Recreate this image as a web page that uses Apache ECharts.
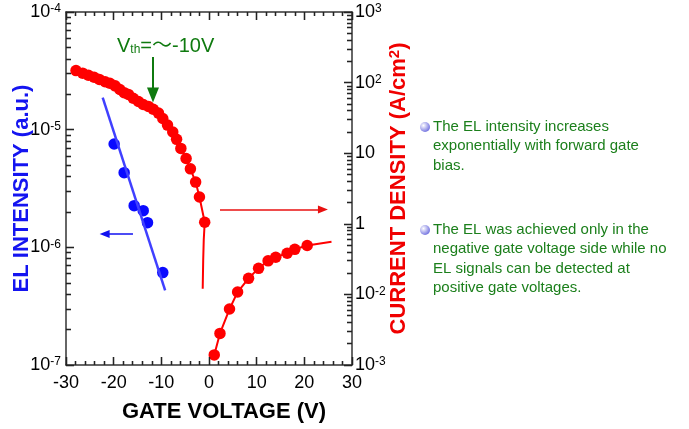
<!DOCTYPE html>
<html><head><meta charset="utf-8">
<script src="https://cdn.jsdelivr.net/npm/echarts@6/dist/echarts.min.js"></script>
<style>html,body{margin:0;padding:0;background:#fff}#wrap{position:relative;width:689px;height:429px}#c,#t{position:absolute;left:0;top:0;width:689px;height:429px}#t{pointer-events:none}</style>
</head><body><div id="wrap"><div id="c"></div><div id="t"></div></div>
<script>
// ---- data ----
const xRange = [-30, 30];
const xTickStep = 10;

// current density (right axis), negative gate side: dots
const redNegV = [-27.9,-26.5,-25.3,-24.1,-23.0,-21.8,-20.8,-19.7,-18.7,-17.8,-16.9,-15.9,-14.8,-13.8,-12.7,-11.7,-10.6,-9.7,-8.7,-7.6,-6.8,-5.9,-4.8,-3.9,-2.8,-2.0,-0.9];
const redNegJ = [148,136,127,119,111,103,98,90,80,72,68,60,54,49,46,42,37,31,25,20,15.7,11.7,8.4,6.0,3.9,2.4,1.05];
// fitted tail of the negative-side curve
const redTailV = [-1.1,-1.22,-1.32];
const redTailJ = [0.6,0.3,0.12];
// current density, positive gate side
const redPosV = [1.1,2.3,4.3,6.0,8.3,10.4,12.4,14.0,16.4,18.0,20.6];
const redPosJ = [0.0139,0.028,0.062,0.108,0.169,0.234,0.299,0.336,0.382,0.435,0.493];
const redPosExtV = [25.7];
const redPosExtJ = [0.557];

// EL intensity (left axis)
const blueV = [-19.9,-17.8,-15.7,-13.8,-12.9,-9.7];
const blueEL = [7.55e-6,4.31e-6,2.26e-6,2.05e-6,1.62e-6,6.1e-7];
const blueFitV = [-22.3,-9.2];
const blueFitEL = [1.87e-5,4.3e-7];

// axis ticks / labels
const leftTickValues = [1e-7,1e-6,1e-5,1e-4];
const leftTickLabels = ['10^-7','10^-6','10^-5','10^-4'];
const rightTickValues = [0.01,0.1,1,10,100,1000];
const rightTickLabels = ['10^-3','10^-2','1','10','10^2','10^3'];

// annotation arrows: [x1, y1, x2, y2] in data units
const vthArrow = [-11.75, 4.15e-5, -11.75, 1.97e-5];
const elArrow = [-15.95, 1.3e-6, -21.9, 1.3e-6];
const jArrow = [2.3, 1.6, 23.9, 1.6];

// texts
const xTitle = 'GATE VOLTAGE (V)';
const leftTitle = 'EL INTENSITY (a.u.)';
const rightTitleMain = 'CURRENT DENSITY (A/cm';
const rightTitleSup = '2';
const rightTitleEnd = ')';
const vthParts = ['V', 'th', '=〜-10V'];
const bullet1 = ['The EL intensity increases', 'exponentially with forward gate', 'bias.'];
const bullet2 = ['The EL was achieved only in the', 'negative gate voltage side while no', 'EL signals can be detected at', 'positive gate voltages.'];

// ---- chart ----
const FONT = '"Liberation Sans", Arial, Helvetica, sans-serif';
const zip = (a, b) => a.map((v, i) => [v, b[i]]);
function supRich(label) {
  const p = label.split('^');
  return p.length > 1 ? '{b|' + p[0] + '}{s|' + p[1] + '}' : '{b|' + label + '}';
}
function minorLog(e0, e1) {
  const out = [];
  for (let e = e0; e < e1; e++) for (let k = 2; k <= 9; k++) out.push(+(k * Math.pow(10, e)).toPrecision(6));
  return out;
}
const leftMinor = minorLog(-7, -4);
const rightMinor = minorLog(-2, 3);
const labelRich = () => ({
  b: {fontSize: 18, lineHeight: 18, fontFamily: FONT, color: '#000'},
  s: {fontSize: 12, lineHeight: 12, fontFamily: FONT, color: '#000', verticalAlign: 'top'}
});
const axisLineStyle = () => ({color: '#333', width: 1.5});
const tickStyle = () => ({color: '#222', width: 1.3});
function findIdx(vals, v) {
  return vals.findIndex(t => Math.abs(Math.log10(t) - Math.log10(v)) < 1e-6);
}
const TITLE_SIZE = 22;
const GRID = {left: 66, right: 337, top: 12, bottom: 64};

const chart = echarts.init(document.getElementById('c'));
const option = {
  animation: false,
  backgroundColor: '#fff',
  grid: GRID,
  xAxis: [
    {type: 'value', position: 'bottom', min: xRange[0], max: xRange[1], interval: xTickStep,
     axisLine: {show: true, onZero: false, lineStyle: axisLineStyle()},
     axisTick: {show: true, inside: true, length: 8, lineStyle: tickStyle()},
     minorTick: {show: true, splitNumber: 5, length: 4, lineStyle: tickStyle()},
     splitLine: {show: false},
     axisLabel: {fontSize: 18, fontFamily: FONT, color: '#000', margin: 9},
     name: xTitle, nameLocation: 'middle', nameGap: 36, nameMoveOverlap: false,
     nameTextStyle: {fontSize: TITLE_SIZE, fontWeight: 'bold', fontFamily: FONT, color: '#000', padding: [0, 0, 0, 30]}},
    {type: 'value', position: 'top', min: xRange[0], max: xRange[1], interval: xTickStep,
     axisLine: {show: true, onZero: false, lineStyle: axisLineStyle()},
     axisTick: {show: true, inside: true, length: 8, lineStyle: tickStyle()},
     minorTick: {show: true, splitNumber: 5, length: 4, lineStyle: tickStyle()},
     splitLine: {show: false}, axisLabel: {show: false}}
  ],
  yAxis: [
    {type: 'log', position: 'left', min: 1e-7, max: 1e-4,
     axisLine: {show: true, onZero: false, lineStyle: axisLineStyle()},
     axisTick: {show: true, inside: true, length: 8, customValues: leftTickValues, lineStyle: tickStyle()},
     splitLine: {show: false},
     axisLabel: {customValues: leftTickValues, margin: 5, rich: labelRich(),
       formatter: v => { const i = findIdx(leftTickValues, v); return i >= 0 ? supRich(leftTickLabels[i]) : ''; }},
     name: leftTitle, nameLocation: 'middle', nameGap: 33, nameRotate: 90, nameMoveOverlap: false,
     nameTextStyle: {fontSize: TITLE_SIZE, fontWeight: 'bold', fontFamily: FONT, color: '#1414f0'}},
    {type: 'log', position: 'left', min: 1e-7, max: 1e-4,
     axisLine: {show: false, onZero: false},
     axisTick: {show: true, inside: true, length: 5, customValues: leftMinor, lineStyle: tickStyle()},
     splitLine: {show: false}, axisLabel: {show: false}},
    {type: 'log', position: 'right', min: 0.01, max: 1000,
     axisLine: {show: true, onZero: false, lineStyle: axisLineStyle()},
     axisTick: {show: true, inside: true, length: 8, customValues: rightTickValues, lineStyle: tickStyle()},
     splitLine: {show: false},
     axisLabel: {customValues: rightTickValues, margin: 3, rich: labelRich(),
       formatter: v => { const i = findIdx(rightTickValues, v); return i >= 0 ? supRich(rightTickLabels[i]) : ''; }},
     name: '{m|' + rightTitleMain + '}{s|' + rightTitleSup + '}{m|' + rightTitleEnd + '}',
     nameLocation: 'middle', nameGap: 35, nameRotate: 90, nameMoveOverlap: false,
     nameTextStyle: {fontSize: TITLE_SIZE, fontWeight: 'bold', fontFamily: FONT, color: '#f00000',
       rich: {m: {fontSize: TITLE_SIZE, fontWeight: 'bold', fontFamily: FONT, color: '#f00000', lineHeight: 24},
              s: {fontSize: 15, fontWeight: 'bold', fontFamily: FONT, color: '#f00000', verticalAlign: 'top', lineHeight: 15}}}},
    {type: 'log', position: 'right', min: 0.01, max: 1000,
     axisLine: {show: false, onZero: false},
     axisTick: {show: true, inside: true, length: 5, customValues: rightMinor, lineStyle: tickStyle()},
     splitLine: {show: false}, axisLabel: {show: false}}
  ],
  series: [
    {type: 'line', name: 'EL fit', xAxisIndex: 0, yAxisIndex: 0, data: zip(blueFitV, blueFitEL),
     showSymbol: false, symbol: 'none', lineStyle: {color: '#4040ff', width: 2.5}, silent: true},
    {type: 'line', name: 'J neg fit', xAxisIndex: 0, yAxisIndex: 2, data: zip(redNegV.concat(redTailV), redNegJ.concat(redTailJ)),
     showSymbol: false, symbol: 'none', lineStyle: {color: '#ff0000', width: 2}, silent: true},
    {type: 'line', name: 'J pos fit', xAxisIndex: 0, yAxisIndex: 2, data: zip(redPosV.concat(redPosExtV), redPosJ.concat(redPosExtJ)),
     showSymbol: false, symbol: 'none', lineStyle: {color: '#ff0000', width: 2}, silent: true},
    {type: 'scatter', name: 'EL', xAxisIndex: 0, yAxisIndex: 0, data: zip(blueV, blueEL),
     symbol: 'circle', symbolSize: 11.5, itemStyle: {color: '#0a0aff', opacity: 1},
     markLine: {silent: true, animation: false, label: {show: false},
       data: [
         [{coord: [vthArrow[0], vthArrow[1]], symbol: 'none'},
          {coord: [vthArrow[2], vthArrow[3]], symbol: 'triangle', symbolSize: [12, 15],
           lineStyle: {color: '#0f7a0f', width: 2, type: 'solid'}}],
         [{coord: [elArrow[0], elArrow[1]], symbol: 'none'},
          {coord: [elArrow[2], elArrow[3]], symbol: 'triangle', symbolSize: [8, 10],
           lineStyle: {color: '#1010f0', width: 1.5, type: 'solid'}}]
       ]}},
    {type: 'scatter', name: 'J neg', xAxisIndex: 0, yAxisIndex: 2, data: zip(redNegV, redNegJ),
     symbol: 'circle', symbolSize: 11.5, itemStyle: {color: '#ff0000', opacity: 1}},
    {type: 'scatter', name: 'J pos', xAxisIndex: 0, yAxisIndex: 2, data: zip(redPosV, redPosJ),
     symbol: 'circle', symbolSize: 11.5, itemStyle: {color: '#ff0000', opacity: 1},
     markLine: {silent: true, animation: false, label: {show: false},
       data: [
         [{coord: [jArrow[0], jArrow[1]], symbol: 'none'},
          {coord: [jArrow[2], jArrow[3]], symbol: 'triangle', symbolSize: [8, 10],
           lineStyle: {color: '#e81010', width: 1.5, type: 'solid'}}]
       ]}}
  ],
  graphic: [
    {type: 'text', left: 117, top: 36, silent: true,
     style: {rich: {v: {fontSize: 20, fontFamily: FONT, fill: '#0f7a0f', lineHeight: 20},
                    t: {fontSize: 12, fontFamily: FONT, fill: '#0f7a0f', verticalAlign: 'bottom', lineHeight: 12},
                    n: {fontSize: 20, fontFamily: FONT + ', "Noto Sans CJK JP"', fill: '#0f7a0f', lineHeight: 20}},
            text: '{v|' + vthParts[0] + '}{t|' + vthParts[1] + '}{n|' + vthParts[2] + '}'}},
    {type: 'circle', shape: {cx: 425, cy: 127, r: 5}, silent: true,
     style: {fill: {type: 'radial', x: 0.35, y: 0.35, r: 0.75, colorStops: [{offset: 0, color: '#ffffff'}, {offset: 1, color: '#6666dd'}]}}},
    {type: 'text', x: 433, y: 117.5, silent: true,
     style: {text: bullet1.join('\n'), font: '15px ' + FONT, fill: '#1b7f1b', lineHeight: 19.2}},
    {type: 'circle', shape: {cx: 425, cy: 230, r: 5}, silent: true,
     style: {fill: {type: 'radial', x: 0.35, y: 0.35, r: 0.75, colorStops: [{offset: 0, color: '#ffffff'}, {offset: 1, color: '#6666dd'}]}}},
    {type: 'text', x: 433, y: 220.5, silent: true,
     style: {text: bullet2.join('\n'), font: '15px ' + FONT, fill: '#1b7f1b', lineHeight: 19.2}}
  ]
};
chart.setOption(option);

// ---- tick overlay: a second, transparent instance that draws only the axis ticks ----
const tickOverlay = echarts.init(document.getElementById('t'));
const xTickAxis = pos => ({type: 'value', position: pos, min: xRange[0], max: xRange[1], interval: xTickStep,
  axisLine: {show: false, onZero: false},
  axisTick: {show: true, inside: true, length: 8, lineStyle: tickStyle()},
  minorTick: {show: true, splitNumber: 5, length: 4, lineStyle: tickStyle()},
  splitLine: {show: false}, axisLabel: {show: false}});
const yTickAxis = (pos, min, max, vals, len) => ({type: 'log', position: pos, min, max,
  axisLine: {show: false, onZero: false},
  axisTick: {show: true, inside: true, length: len, customValues: vals, lineStyle: tickStyle()},
  splitLine: {show: false}, axisLabel: {show: false}});
tickOverlay.setOption({
  animation: false,
  backgroundColor: 'transparent',
  grid: GRID,
  xAxis: [xTickAxis('bottom'), xTickAxis('top')],
  yAxis: [
    yTickAxis('left', 1e-7, 1e-4, leftTickValues, 8),
    yTickAxis('left', 1e-7, 1e-4, leftMinor, 5),
    yTickAxis('right', 0.01, 1000, rightTickValues, 8),
    yTickAxis('right', 0.01, 1000, rightMinor, 5)
  ],
  series: []
});
</script>
</body></html>
